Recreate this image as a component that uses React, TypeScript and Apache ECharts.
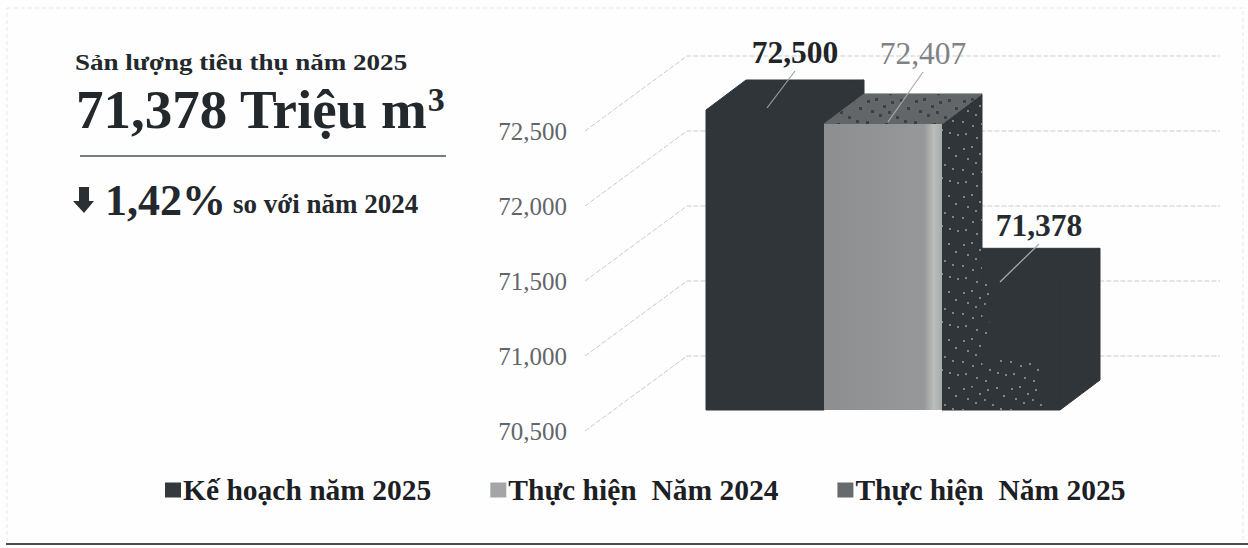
import React, { useEffect, useRef } from "react";
import * as echarts from "echarts";

const categories = ["Kế hoạch năm 2025", "Thực hiện  Năm 2024", "Thực hiện  Năm 2025"];
const plan2025 = [72500];
const actual2024 = [72407];
const actual2025 = [71378];
const yTicks = [70500, 71000, 71500, 72000, 72500];
const legendColors = ["#33393d", "#a3a5a6", "#676b6d"];

const SERIF = '"Liberation Serif", serif';
const INK = "#2f3539";
const TEXT = "#23282c";

// Oblique projection of the chart's depth axis, in pixels.
const WALL_DX = 102;
const WALL_DY = 75;
const BAR_DX = 40;
const BAR_DY = 30;
const FLOOR_DX = 121;
const FLOOR_DY = 21;
const WALL_RIGHT = 1220;

// Printed-grain dots for the speckled faces, as x,y cells of a repeating tile.
const grainDots = [
  [3, 4], [11, 2], [19, 9], [27, 5], [36, 3], [43, 11], [7, 14], [15, 18], [24, 15], [32, 20],
  [40, 24], [2, 25], [12, 29], [21, 27], [29, 33], [37, 36], [45, 38], [5, 37], [16, 41], [25, 44],
];

const makeGrain = (color: string, size: number) => {
  const c = document.createElement("canvas");
  c.width = 48;
  c.height = 48;
  const g = c.getContext("2d")!;
  g.fillStyle = color;
  grainDots.forEach(([x, y]) => g.fillRect(x, y, size, size));
  return { image: c, repeat: "repeat" };
};

const fmt = (v: number) => v.toLocaleString("en-US");

const poly = (points: number[][], fill: any, stroke?: string) => ({
  type: "polygon",
  shape: { points },
  style: stroke ? { fill, stroke, lineWidth: 1 } : { fill },
});

type BarStyle = {
  front: any;
  top: string;
  side: string;
  labelColor: string;
  labelWeight: string;
  leaderColor: string;
  leaderEnd: [number, number];
  labelAt: [number, number];
  sideGrain?: boolean;
  topGrain?: boolean;
  frontGrain?: boolean;
};

const barSeries = (name: string, idx: number, values: number[], c: BarStyle) => ({
  type: "custom",
  name,
  itemStyle: { color: legendColors[idx] },
  z: idx === 1 ? 4 : 3 - idx,
  data: values.map((v) => [idx, v]),
  renderItem: (_p: any, api: any) => {
    const val = api.value(1);
    const [cx, topRaw] = api.coord([api.value(0), val]);
    const [, baseRaw] = api.coord([api.value(0), yTicks[0]]);
    const w = api.size([1, 0])[0];
    const x0 = cx - w / 2;
    const x1 = cx + w / 2;
    const top = topRaw - FLOOR_DY;
    const base = baseRaw - FLOOR_DY;
    const side = [[x1, top], [x1 + BAR_DX, top - BAR_DY], [x1 + BAR_DX, base - BAR_DY], [x1, base]];
    const cap = [[x0, top], [x0 + BAR_DX, top - BAR_DY], [x1 + BAR_DX, top - BAR_DY], [x1, top]];
    const face = [[x0, top], [x1, top], [x1, base], [x0, base]];
    const children: any[] = [
      poly(side, c.side, c.side),
      poly(cap, c.top, c.top),
      poly(face, c.front, typeof c.front === "string" ? c.front : undefined),
    ];
    if (c.sideGrain) {
      children.push(poly(side, makeGrain("#7f8487", 2)));
    }
    if (c.topGrain) {
      children.push(poly(cap, makeGrain("#3c4144", 3)));
    }
    if (c.frontGrain) {
      // The grain gathers along the lower-left of the face and thins out upward.
      children.push(poly([[x0, base - 50], [x0 + w * 0.85, base - 50], [x0 + w * 0.85, base], [x0, base]], makeGrain("#7f8487", 2)));
      children.push(poly([[x0, top + 2], [x0 + w * 0.4, top + 2], [x0 + w * 0.4, top + 62], [x0, top + 62]], makeGrain("#7f8487", 2)));
    }
    children.push(
      {
        type: "line",
        shape: { x1: c.labelAt[0], y1: c.labelAt[1] + 19, x2: c.leaderEnd[0], y2: c.leaderEnd[1] },
        style: { stroke: c.leaderColor, lineWidth: 1.2 },
      },
      {
        type: "text",
        x: c.labelAt[0],
        y: c.labelAt[1],
        style: {
          text: fmt(val),
          fill: c.labelColor,
          font: `${c.labelWeight} 31.5px ${SERIF}`,
          align: "center",
          verticalAlign: "middle",
        },
      }
    );
    return { type: "group", children };
  },
});

export default function App() {
  const ref = useRef<HTMLDivElement>(null);

  useEffect(() => {
    const chart = echarts.init(ref.current!, undefined, { renderer: "svg" });

    chart.setOption({
      animation: false,
      backgroundColor: "#fefefe",
      grid: { left: 706, right: 188, top: 131, bottom: 117 },
      xAxis: { type: "category", data: categories, show: false },
      yAxis: {
        type: "value",
        min: 70500,
        max: 72500,
        interval: 500,
        splitLine: { show: false },
        axisLine: { show: false },
        axisTick: { show: false },
        axisLabel: {
          margin: 139,
          fontFamily: SERIF,
          fontSize: 25,
          color: "#62666a",
          formatter: (v: number) => fmt(v),
        },
      },
      legend: {
        top: 470,
        left: 160,
        itemWidth: 16,
        itemHeight: 15,
        itemGap: 59,
        icon: "rect",
        textStyle: { fontFamily: SERIF, fontSize: 29.5, fontWeight: "bold", color: "#1c2024", padding: [0, 0, 0, -3] },
        data: categories.map((name, i) => ({ name, itemStyle: { color: legendColors[i] } })),
      },
      series: [
        // Depth gridlines: floor edge, up the side wall, then along the back wall.
        {
          type: "custom",
          silent: true,
          z: 1,
          data: yTicks.map((v) => [0, v]),
          renderItem: (_p: any, api: any) => {
            const [gx, y] = api.coord([0, api.value(1)]);
            const x = gx - api.size([1, 0])[0] / 2 - FLOOR_DX;
            return {
              type: "polyline",
              shape: { points: [[x, y], [x + WALL_DX, y - WALL_DY], [WALL_RIGHT, y - WALL_DY]] },
              style: { fill: "none", stroke: "#c9cbcc", lineWidth: 1, lineDash: [5, 2] },
            };
          },
        },
        barSeries(categories[0], 0, plan2025, {
          front: INK,
          top: INK,
          side: INK,
          labelColor: "#1f2428",
          labelWeight: "bold",
          leaderColor: "#9aa0a3",
          labelAt: [795, 52],
          leaderEnd: [767, 108],
        }),
        barSeries(categories[1], 1, actual2024, {
          front: {
            type: "linear",
            x: 0,
            y: 0,
            x2: 1,
            y2: 0,
            colorStops: [
              { offset: 0, color: "#8d8e8f" },
              { offset: 0.85, color: "#979899" },
              { offset: 0.93, color: "#bcbdbd" },
              { offset: 1, color: "#a9aaaa" },
            ],
          },
          top: "#626668",
          side: INK,
          sideGrain: true,
          topGrain: true,
          labelColor: "#7f8284",
          labelWeight: "normal",
          leaderColor: "#a8acae",
          labelAt: [923, 53],
          leaderEnd: [888, 122],
        }),
        barSeries(categories[2], 2, actual2025, {
          front: INK,
          top: INK,
          side: INK,
          frontGrain: true,
          labelColor: "#262b2f",
          labelWeight: "bold",
          leaderColor: "#a9adaf",
          labelAt: [1039, 225],
          leaderEnd: [1000, 282],
        }),
      ],
      graphic: [
        // Sheet outline and the heavy rule along its bottom edge.
        {
          type: "rect",
          shape: { x: 7, y: 8, width: 1236, height: 536 },
          style: { fill: "none", stroke: "#e8e8e8", lineWidth: 1, lineDash: [4, 3] },
        },
        {
          type: "line",
          shape: { x1: 6, y1: 544, x2: 1248, y2: 544 },
          style: { stroke: "#4a4e51", lineWidth: 2 },
        },
        {
          type: "text",
          x: 75,
          y: 50,
          scaleX: 1.15,
          style: { text: "Sản lượng tiêu thụ năm 2025", font: `bold 23.5px ${SERIF}`, fill: TEXT },
        },
        {
          type: "text",
          x: 76,
          y: 82,
          style: {
            text: "{a|71,378 Triệu m}{b|3}",
            rich: {
              a: { fontSize: 55, fontWeight: "bold", fontFamily: SERIF, fill: TEXT },
              b: { fontSize: 34, fontWeight: "bold", fontFamily: SERIF, fill: TEXT, verticalAlign: "top", lineHeight: 54 },
            },
          },
        },
        {
          type: "line",
          shape: { x1: 80, y1: 156, x2: 446, y2: 156 },
          style: { stroke: "#4a5054", lineWidth: 1.5 },
        },
        {
          type: "polygon",
          shape: { points: [[79, 187], [89, 187], [89, 201], [94, 201], [84, 213], [73, 201], [79, 201]] },
          style: { fill: "#2a3034" },
        },
        {
          type: "text",
          x: 105,
          y: 178,
          style: { text: "1,42%", font: `bold 44px ${SERIF}`, fill: TEXT },
        },
        {
          type: "text",
          x: 233,
          y: 190,
          style: { text: "so với năm 2024", font: `bold 27px ${SERIF}`, fill: TEXT },
        },
      ],
    });

    return () => chart.dispose();
  }, []);

  return <div ref={ref} style={{ position: "fixed", left: 0, top: 0, width: 1248, height: 548 }} />;
}
